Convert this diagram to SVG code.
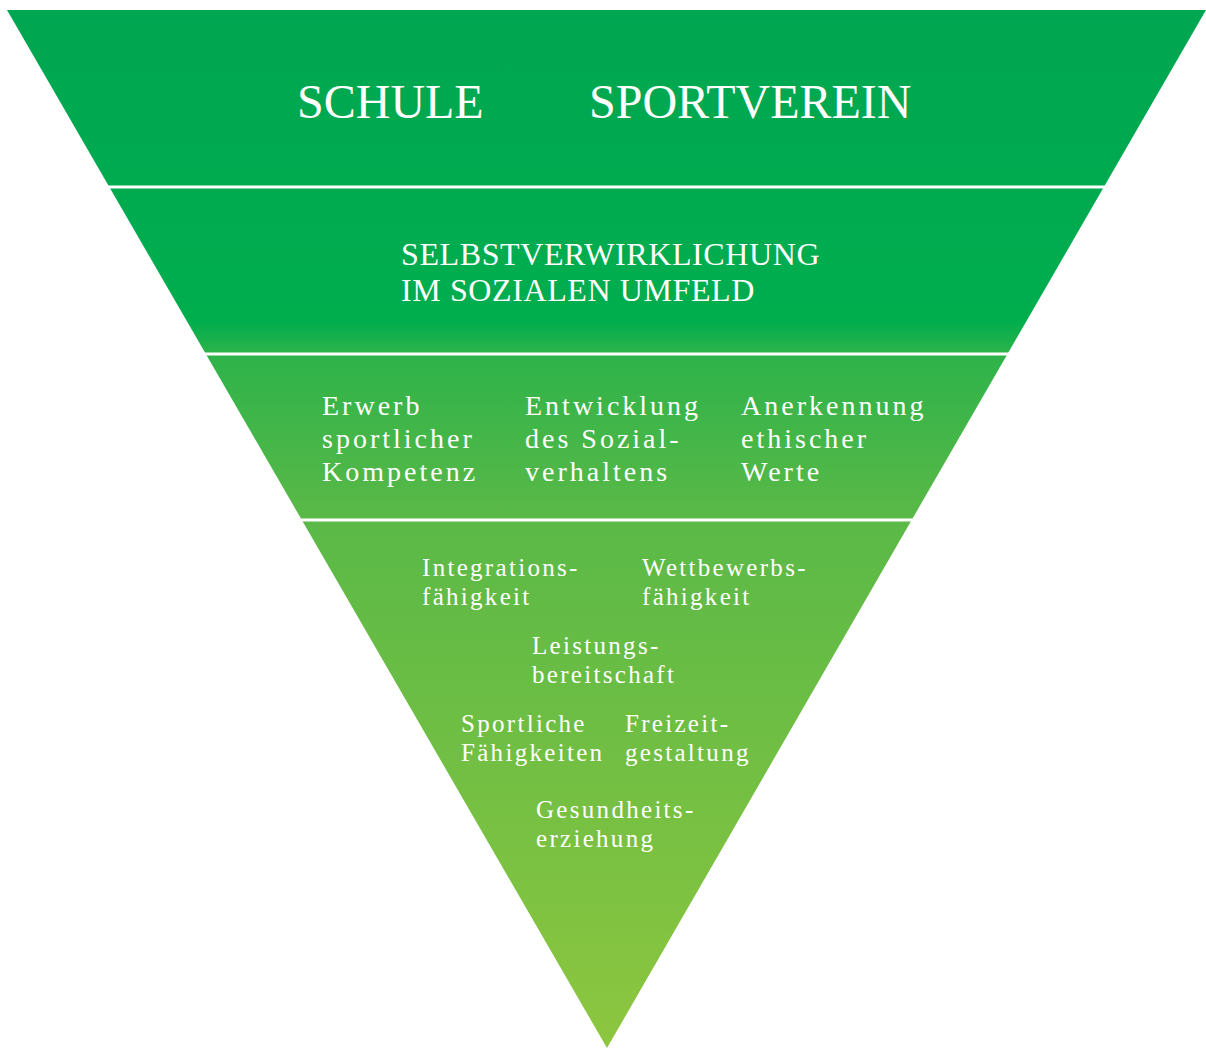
<svg xmlns="http://www.w3.org/2000/svg" width="1206" height="1048" viewBox="0 0 1206 1048">
<defs>
<linearGradient id="g" gradientUnits="userSpaceOnUse" x1="0" y1="10" x2="0" y2="1048">
<stop offset="0" stop-color="#00A651"/>
<stop offset="0.3" stop-color="#00AE4E"/>
<stop offset="0.33" stop-color="#2DB34A"/>
<stop offset="0.49" stop-color="#5AB947"/>
<stop offset="1" stop-color="#8DC63F"/>
</linearGradient>
<style>
text{fill:#fff;font-family:"Liberation Serif","DejaVu Serif",serif}
.t1{font-size:48px}
.t2{font-size:32px;letter-spacing:0.6px}
.t3{font-size:28px;letter-spacing:3px}
.t4{font-size:25px;letter-spacing:2.3px}
.sep{stroke:#fff;stroke-width:3}
</style>
</defs>
<rect width="1206" height="1048" fill="#fff"/>
<polygon points="7,10 1206,10 607,1048" fill="url(#g)"/>
<g id="separators">
<line class="sep" x1="0" y1="187" x2="1206" y2="187"/>
<line class="sep" x1="0" y1="354" x2="1206" y2="354"/>
<line class="sep" x1="0" y1="520" x2="1206" y2="520"/>
</g>
<g id="band1">
<text class="t1" x="297" y="118">SCHULE</text>
<text class="t1" x="589" y="118">SPORTVEREIN</text>
</g>
<g id="band2">
<text class="t2" x="401" y="265">SELBSTVERWIRKLICHUNG</text>
<text class="t2" x="401" y="301">IM SOZIALEN UMFELD</text>
</g>
<g id="band3">
<g id="erwerb">
<text class="t3" x="322" y="415">Erwerb</text>
<text class="t3" x="322" y="448">sportlicher</text>
<text class="t3" x="322" y="481">Kompetenz</text>
</g>
<g id="entwicklung">
<text class="t3" x="525" y="415">Entwicklung</text>
<text class="t3" x="525" y="448">des Sozial-</text>
<text class="t3" x="525" y="481">verhaltens</text>
</g>
<g id="anerkennung">
<text class="t3" x="741" y="415">Anerkennung</text>
<text class="t3" x="741" y="448">ethischer</text>
<text class="t3" x="741" y="481">Werte</text>
</g>
</g>
<g id="band4">
<g id="integration">
<text class="t4" x="422" y="576">Integrations-</text>
<text class="t4" x="422" y="605">fähigkeit</text>
</g>
<g id="wettbewerb">
<text class="t4" x="642" y="576">Wettbewerbs-</text>
<text class="t4" x="642" y="605">fähigkeit</text>
</g>
<g id="leistung">
<text class="t4" x="532" y="654">Leistungs-</text>
<text class="t4" x="532" y="683">bereitschaft</text>
</g>
<g id="sportlich">
<text class="t4" x="461" y="732">Sportliche</text>
<text class="t4" x="461" y="761">Fähigkeiten</text>
</g>
<g id="freizeit">
<text class="t4" x="625" y="732">Freizeit-</text>
<text class="t4" x="625" y="761">gestaltung</text>
</g>
<g id="gesundheit">
<text class="t4" x="536" y="818">Gesundheits-</text>
<text class="t4" x="536" y="847">erziehung</text>
</g>
</g>
</svg>
